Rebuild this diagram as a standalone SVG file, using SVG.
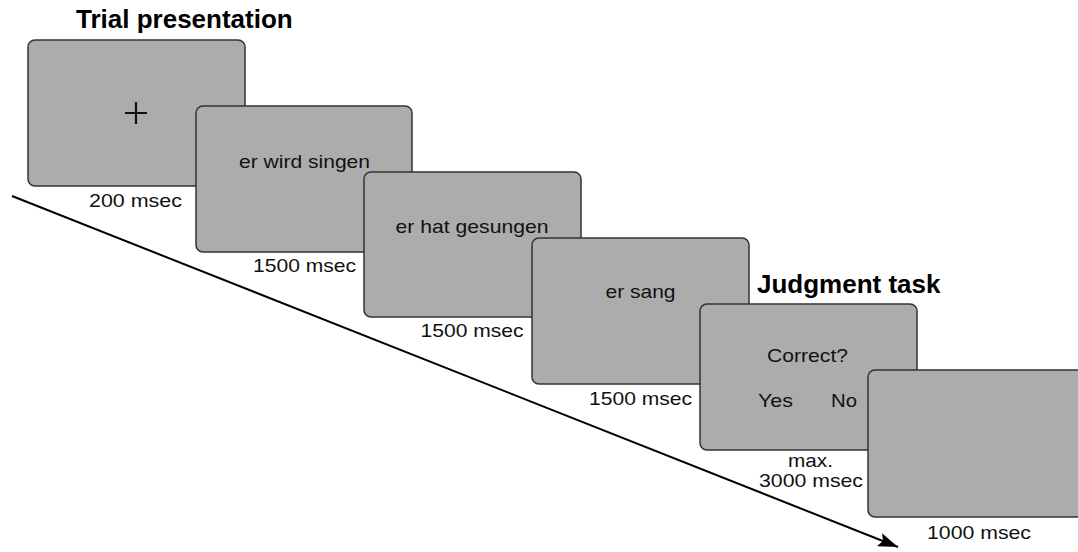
<svg xmlns="http://www.w3.org/2000/svg" width="1078" height="552" viewBox="0 0 1078 552">
  <defs>
    <marker id="arrow" viewBox="0 0 20 14" refX="20" refY="7" markerWidth="20" markerHeight="14" markerUnits="userSpaceOnUse" orient="auto">
      <path d="M0,0 L20,7 L0,14 L4,7 Z" fill="#000"/>
    </marker>
  </defs>
  <style>
    .screen { fill: #acacac; stroke: #333; stroke-width: 1.5; }
    .t { font-family: "Liberation Sans", Arial, sans-serif; font-size: 19px; fill: #111; text-anchor: middle; }
    .h { font-family: "Liberation Sans", Arial, sans-serif; font-size: 26px; font-weight: bold; fill: #000; }
  </style>
  <rect width="1078" height="552" fill="#fff"/>
  <g id="connectors">
    <line x1="12" y1="196" x2="898" y2="547" stroke="#000" stroke-width="2" marker-end="url(#arrow)"/>
  </g>
  <g id="title-trial"><text class="h" x="76" y="28">Trial presentation</text></g>
  <g id="screen-fixation">
    <rect class="screen" x="28" y="40" width="217" height="146" rx="7"/>
    <path d="M125,113 H147 M136,102 V124" stroke="#111" stroke-width="2.2" fill="none"/>
    <text class="t" x="135.5" y="207" textLength="93" lengthAdjust="spacingAndGlyphs">200 msec</text>
  </g>
  <g id="screen-future">
    <rect class="screen" x="196" y="106" width="216" height="146" rx="7"/>
    <text class="t" x="304.5" y="168" textLength="131" lengthAdjust="spacingAndGlyphs">er wird singen</text>
    <text class="t" x="304.5" y="272" textLength="103" lengthAdjust="spacingAndGlyphs">1500 msec</text>
  </g>
  <g id="screen-perfect">
    <rect class="screen" x="364" y="172" width="217" height="145" rx="7"/>
    <text class="t" x="472" y="233" textLength="153" lengthAdjust="spacingAndGlyphs">er hat gesungen</text>
    <text class="t" x="472" y="337" textLength="103" lengthAdjust="spacingAndGlyphs">1500 msec</text>
  </g>
  <g id="screen-past">
    <rect class="screen" x="532" y="238" width="217" height="146" rx="7"/>
    <text class="t" x="640.5" y="298" textLength="70" lengthAdjust="spacingAndGlyphs">er sang</text>
    <text class="t" x="640.5" y="405" textLength="103" lengthAdjust="spacingAndGlyphs">1500 msec</text>
  </g>
  <g id="title-judgment"><text class="h" x="757" y="293">Judgment task</text></g>
  <g id="screen-judgment">
    <rect class="screen" x="700" y="304" width="217" height="146" rx="7"/>
    <text class="t" x="807.5" y="362" textLength="81" lengthAdjust="spacingAndGlyphs">Correct?</text>
    <text class="t" x="775.5" y="407" textLength="35" lengthAdjust="spacingAndGlyphs">Yes</text>
    <text class="t" x="844" y="407" textLength="26" lengthAdjust="spacingAndGlyphs">No</text>
    <text class="t" x="810.5" y="467" textLength="45" lengthAdjust="spacingAndGlyphs">max.</text>
    <text class="t" x="811" y="487" textLength="104" lengthAdjust="spacingAndGlyphs">3000 msec</text>
  </g>
  <g id="screen-blank">
    <rect class="screen" x="868" y="370" width="217" height="147" rx="7"/>
    <text class="t" x="979" y="539" textLength="104" lengthAdjust="spacingAndGlyphs">1000 msec</text>
  </g>
</svg>
